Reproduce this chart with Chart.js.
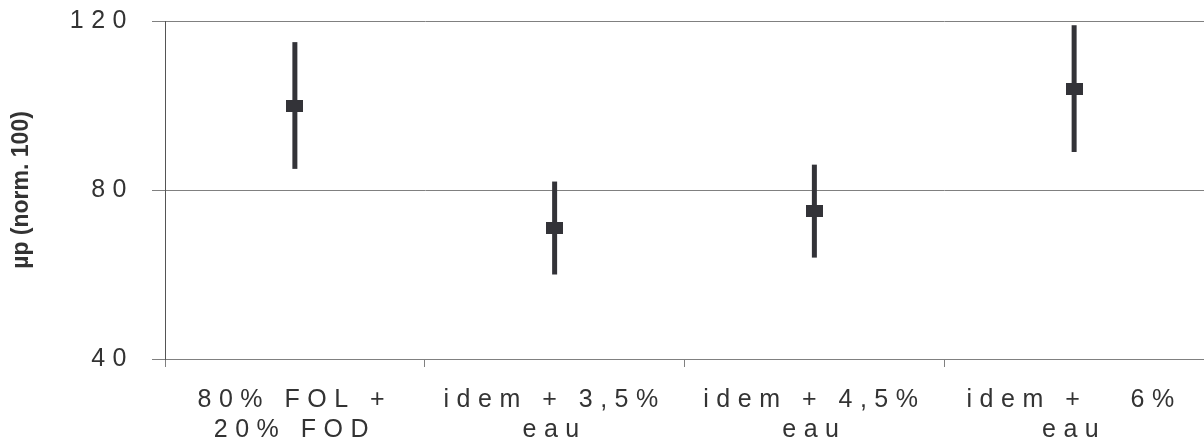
<!DOCTYPE html>
<html>
<head>
<meta charset="utf-8">
<script src="https://cdn.jsdelivr.net/npm/chart.js@4/dist/chart.umd.min.js"></script>
<style>
  html, body { margin: 0; padding: 0; background: #fff; overflow: hidden; }
  canvas { display: block; }
</style>
</head>
<body>
<canvas id="chart" width="1204" height="444"></canvas>
<script>
// categories (two lines each)
var categories = [
    ["80% FOL +", "20% FOD"],
    ["idem + 3,5%", "eau"],
    ["idem + 4,5%", "eau"],
    ["idem +   6%", "eau"]
];
// mean values and error bar ends
var means = [100, 71, 75, 104];
var highs = [115, 82, 86, 119];
var lows = [85, 60, 64, 89];
var yTicks = [40, 80, 120];

var ink = '#333338';

// rectangular marker
var marker = document.createElement('canvas');
marker.width = 17;
marker.height = 12;
var mctx = marker.getContext('2d');
mctx.fillStyle = ink;
mctx.fillRect(0, 0, 17, 12);

var errorBars = {
    id: 'errorBars',
    beforeDraw: function (chart) {
        chart.ctx.letterSpacing = '0px';
    },
    beforeDatasetsDraw: function (chart) {
        var ctx = chart.ctx;
        var meta = chart.getDatasetMeta(0);
        var y = chart.scales.y;
        ctx.save();
        ctx.strokeStyle = ink;
        ctx.lineWidth = 5;
        meta.data.forEach(function (pt, i) {
            ctx.beginPath();
            ctx.moveTo(pt.x, y.getPixelForValue(highs[i]));
            ctx.lineTo(pt.x, y.getPixelForValue(lows[i]));
            ctx.stroke();
        });
        ctx.restore();
    },
    afterDatasetsDraw: function (chart) {
        // spaced-out tick labels are drawn after this (ticks.z = 1)
        chart.ctx.letterSpacing = '7.5px';
    },
    afterDraw: function (chart) {
        chart.ctx.letterSpacing = '0px';
    }
};

var font = '"Liberation Sans", Arial, sans-serif';

var ctx = document.getElementById("chart").getContext("2d");
new Chart(ctx, {
    type: 'line',
    data: {
        labels: categories,
        datasets: [{
            data: means,
            showLine: false,
            pointStyle: marker,
            pointRadius: 8,
            pointHoverRadius: 8,
            pointBorderWidth: 0
        }]
    },
    options: {
        responsive: false,
        animation: false,
        events: [],
        layout: {
            autoPadding: false,
            padding: { top: 21, left: 0, right: -4, bottom: 0 }
        },
        plugins: {
            legend: { display: false },
            tooltip: { enabled: false }
        },
        scales: {
            x: {
                offset: true,
                afterFit: function (s) {
                    s.height = 85;
                    s.paddingLeft = 0;
                    s.paddingRight = -4;
                },
                grid: {
                    offset: true,
                    drawOnChartArea: false,
                    drawTicks: true,
                    tickLength: 8,
                    color: '#808080'
                },
                border: { color: '#808080', width: 1 },
                ticks: {
                    z: 1,
                    color: '#333333',
                    padding: 18,
                    maxRotation: 0,
                    autoSkip: false,
                    font: { family: font, size: 25, lineHeight: 1.2 }
                }
            },
            y: {
                min: 40,
                max: 120,
                afterFit: function (s) {
                    s.width = 165;
                    s.paddingTop = 0;
                    s.paddingBottom = 0;
                },
                afterBuildTicks: function (s) {
                    s.ticks = yTicks.map(function (v) { return { value: v }; });
                },
                grid: {
                    color: '#808080',
                    tickLength: 13
                },
                border: { color: '#555555', width: 1 },
                ticks: {
                    z: 1,
                    color: '#333333',
                    padding: 18,
                    font: { family: font, size: 25 }
                },
                title: {
                    display: true,
                    text: 'µp (norm. 100)',
                    color: '#333333',
                    padding: { top: 8, bottom: 0 },
                    font: { family: font, size: 23, weight: 'bold' }
                }
            }
        }
    },
    plugins: [errorBars]
});
</script>
</body>
</html>
